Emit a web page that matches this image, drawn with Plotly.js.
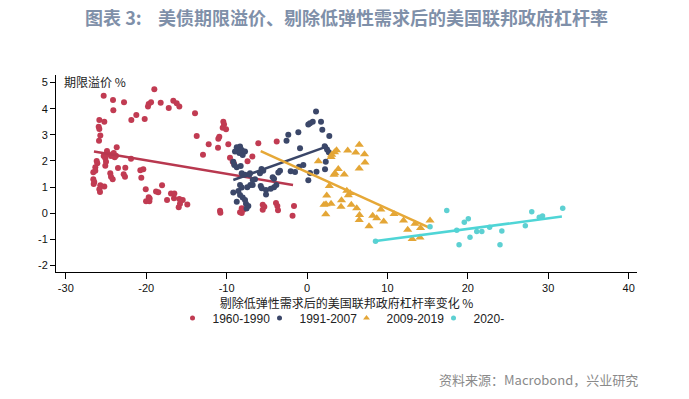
<!DOCTYPE html>
<html>
<head>
<meta charset="utf-8">
<script src="https://cdn.plot.ly/plotly-3.0.1.min.js"></script>
<style>html,body{margin:0;padding:0;background:#fff;}#chart{width:689px;height:399px;}</style>
</head>
<body>
<div id="chart"></div>
<script>
// ---- data ----
const seriesNames = ['1960-1990', '1991-2007', '2009-2019', '2020-'];

const redX = [-25.29,-24.13,-22.76,-18.99,-24.09,-19.69,-19.40,-19.78,-18.20,-16.63,-17.20,-21.23,-21.85,-20.19,-25.83,-25.21,-25.91,-25.83,-25.71,-25.87,
  -23.67,-24.88,-24.71,-25.29,-25.09,-24.38,-24.04,-23.76,-23.92,-21.89,-26.16,-26.08,-26.33,-26.33,-26.58,-25.09,-25.00,-23.51,-22.60,-24.47,
  -24.38,-24.17,-22.80,-22.64,-20.73,-20.36,-20.61,-26.58,-26.46,-26.53,-25.71,-25.21,-25.83,-25.75,-20.06,-18.03,-18.78,-18.50,-19.69,-20.02,
  -19.61,-17.41,-16.92,-16.50,-16.54,-16.21,-15.88,-13.93,-13.72,-12.94,-12.23,-11.07,-11.03,-10.91,-10.41,-10.32,-10.49,-10.07,-9.79,-9.58,
  -10.82,-10.78,-8.33,-14.89,-15.46,-15.80,-15.96,-15.88,-19.57,-6.06,-3.77,-9.24,-7.40,-6.80,-8.12,-7.92,-8.12,-5.51,-5.31,-5.51,
  -3.86,-3.69,-3.61,-1.62,-1.80,-9.08];
const redY = [4.50,4.33,4.25,4.74,3.94,4.18,4.25,4.08,4.23,4.30,4.03,3.76,3.57,3.61,3.57,3.50,3.31,3.22,2.97,2.77,
  2.52,2.38,2.27,2.19,2.10,2.19,2.30,2.20,2.14,2.08,2.00,1.91,1.76,1.63,1.57,1.82,1.97,1.73,1.74,1.53,
  1.40,1.30,1.49,1.40,1.64,1.68,1.36,1.30,1.19,1.12,1.07,1.02,0.92,0.81,0.92,1.07,0.83,0.80,0.61,0.46,
  0.46,0.51,0.75,0.75,0.57,4.21,4.08,3.83,2.96,2.24,2.64,2.51,2.85,2.93,3.50,3.40,3.27,3.21,2.64,2.12,
  0.09,0.02,0.04,0.33,0.51,0.36,0.23,0.54,0.56,2.68,2.74,1.97,1.99,2.17,0.19,0.13,0.01,0.32,0.25,0.13,
  0.39,0.28,0.11,0.28,-0.10,1.89];

const navyX = [1.12,0.37,0.71,0.16,1.74,1.90,-1.08,-2.33,-2.55,2.77,-0.87,2.20,2.49,2.71,2.33,2.24,1.18,0.37,0.16,-0.46,
  -1.00,-1.49,-2.03,-3.36,-3.57,-4.27,-3.82,-4.10,-4.51,-5.10,-5.10,-5.63,-5.76,-5.44,-5.66,-5.85,-6.47,-7.09,-7.18,-7.05,
  -8.33,-8.54,-8.74,-8.12,-8.42,-8.00,-8.96,-7.71,-9.17,-9.04,-8.74,-8.25,-8.12,-7.71,-8.33,-8.12,-8.54,-9.17,-8.74,-8.33,
  -8.00,-7.71,-7.59,-7.30,-7.52,-7.43,-6.75,-6.75,-4.10];
const navyY = [3.89,3.44,3.50,3.40,3.50,3.19,3.10,3.00,2.77,2.96,2.49,2.56,2.44,2.33,1.97,1.68,1.59,1.54,1.26,1.85,
  1.78,1.58,1.61,1.63,1.56,1.38,1.08,0.99,0.94,0.89,0.72,0.96,1.04,1.63,1.69,1.53,1.30,1.53,1.47,1.08,
  2.55,2.45,2.52,2.42,2.30,2.23,2.36,2.36,1.97,1.85,1.76,1.81,1.53,1.47,1.08,0.98,0.85,0.79,0.44,0.70,
  0.60,0.51,0.36,0.28,0.18,0.99,1.08,1.27,1.32];

const goldX = [6.50,5.06,6.06,7.15,3.67,3.42,3.07,2.99,1.41,7.21,6.49,3.89,3.48,3.36,4.63,2.77,4.95,5.35,5.14,2.45,
  4.29,4.23,2.11,2.36,2.99,2.33,5.51,6.18,6.53,6.49,8.17,8.67,9.18,9.54,7.71,10.82,12.00,12.52,13.08,14.05,
  14.12,15.30,13.43];
const goldY = [2.62,2.40,2.32,2.26,2.41,2.33,2.24,2.15,1.99,1.94,1.71,1.69,1.53,1.47,1.48,1.04,0.86,0.77,0.69,0.68,
  0.50,0.25,0.32,0.34,0.36,-0.04,0.32,0.19,-0.07,-0.26,-0.10,-0.19,0.14,-0.32,-0.50,-0.03,-0.28,-0.63,-0.99,-0.93,
  -0.57,-0.28,-0.40];

const cyanX = [8.52,17.38,20.06,19.56,18.62,18.91,20.27,21.11,21.74,22.71,24.23,24.00,27.15,27.95,28.89,29.29,31.80,15.30];
const cyanY = [-1.07,0.10,-0.21,-0.35,-0.65,-1.21,-0.92,-0.70,-0.70,-0.54,-0.68,-1.21,-0.48,0.06,-0.15,-0.11,0.19,-0.52];

// fitted trend lines (end points)
const redFitX = [-26.5, -1.74],  redFitY = [2.36, 1.08];
const navyFitX = [-9.17, 2.6],   navyFitY = [1.27, 2.57];
const goldFitX = [-5.76, 15.2],  goldFitY = [2.38, -0.55];
const cyanFitX = [8.54, 31.7],   cyanFitY = [-1.06, -0.13];

const xTicks = [-30, -20, -10, 0, 10, 20, 30, 40];
const yTicks = [-2, -1, 0, 1, 2, 3, 4, 5];

// ---- styling ----
const cRed = '#c13b52', cNavy = '#3b4769', cGold = '#e4a636', cCyan = '#5dd0d2';
const lRed = '#b8384f', lNavy = '#3a4668', lGold = '#e6a837', lCyan = '#4fd5d6';
const cjk = '"Noto Sans CJK SC", "Noto Sans", sans-serif';

function pts(x, y, color, symbol, size) {
  return {x: x, y: y, type: 'scatter', mode: 'markers', showlegend: false, hoverinfo: 'skip',
          marker: {color: color, size: size, symbol: symbol, line: {width: 0}}};
}
function fit(x, y, color) {
  return {x: x, y: y, type: 'scatter', mode: 'lines', showlegend: false, hoverinfo: 'skip',
          line: {color: color, width: 2.5}};
}
function leg(name, color, symbol, size) {
  return {x: [null], y: [null], type: 'scatter', mode: 'markers', name: name, showlegend: true,
          marker: {color: color, size: size, symbol: symbol}};
}

const traces = [
  pts(redX, redY, cRed, 'circle', 6), fit(redFitX, redFitY, lRed),
  pts(navyX, navyY, cNavy, 'circle', 6), fit(navyFitX, navyFitY, lNavy),
  pts(goldX, goldY, cGold, 'triangle-up', 8), fit(goldFitX, goldFitY, lGold),
  pts(cyanX, cyanY, cCyan, 'circle', 5.5), fit(cyanFitX, cyanFitY, lCyan),
  leg(seriesNames[0], cRed, 'circle', 5),
  leg(seriesNames[1], cNavy, 'circle', 5),
  leg(seriesNames[2], cGold, 'triangle-up', 6),
  leg(seriesNames[3], cCyan, 'circle', 5)
];

const layout = {
  width: 689, height: 399,
  margin: {l: 56, r: 52, t: 75, b: 127, pad: 0},
  paper_bgcolor: '#ffffff', plot_bgcolor: '#ffffff',
  font: {family: '"Liberation Sans", Arial, sans-serif', size: 12, color: '#111'},
  title: {
    text: '<b>图表 3:\u00a0\u00a0\u00a0\u00a0美债期限溢价、剔除低弹性需求后的美国联邦政府杠杆率</b>',
    font: {family: cjk, size: 18, color: '#7f90a9'},
    x: 0.5, xref: 'paper', xanchor: 'center',
    y: 1 - 19 / 399, yref: 'container', yanchor: 'middle'
  },
  xaxis: {
    range: [-31.22, 41.04], tickvals: xTicks, ticktext: xTicks.map(String),
    showgrid: false, zeroline: false, showline: true, linecolor: '#000', linewidth: 1,
    ticks: 'outside', ticklen: 6, tickcolor: '#000', tickwidth: 1,
    tickfont: {family: '"Liberation Sans", Arial, sans-serif', size: 11, color: '#111'},
    title: {text: '剔除低弹性需求后的美国联邦政府杠杆率变化 %', font: {family: cjk, size: 12, color: '#222'}, standoff: 2},
    fixedrange: true
  },
  yaxis: {
    range: [-2.25, 5.29], tickvals: yTicks, ticktext: yTicks.map(String),
    showgrid: false, zeroline: false, showline: true, linecolor: '#000', linewidth: 1,
    ticks: 'outside', ticklen: 5, tickcolor: '#000', tickwidth: 1,
    tickfont: {family: '"Liberation Sans", Arial, sans-serif', size: 11, color: '#111'},
    fixedrange: true
  },
  legend: {
    orientation: 'h', x: 0.5, xanchor: 'center', y: -0.2335, yanchor: 'middle',
    font: {family: '"Liberation Sans", Arial, sans-serif', size: 12, color: '#222'},
    bgcolor: 'rgba(0,0,0,0)', itemwidth: 30, entrywidth: 42, entrywidthmode: 'pixels',
    tracegroupgap: 0, traceorder: 'normal'
  },
  annotations: [
    {text: '期限溢价 %', xref: 'paper', yref: 'paper', x: 0.0103, y: 0.9695, xanchor: 'left', yanchor: 'middle',
     showarrow: false, font: {family: cjk, size: 12, color: '#222'}},
    {text: '资料来源：Macrobond，兴业研究', xref: 'paper', yref: 'paper', x: 1.005, y: -0.548, xanchor: 'right', yanchor: 'middle',
     showarrow: false, font: {family: cjk, size: 13, color: '#8a8a8a'}}
  ],
  showlegend: true
};

Plotly.newPlot('chart', traces, layout, {displayModeBar: false, staticPlot: true});
</script>
</body>
</html>
